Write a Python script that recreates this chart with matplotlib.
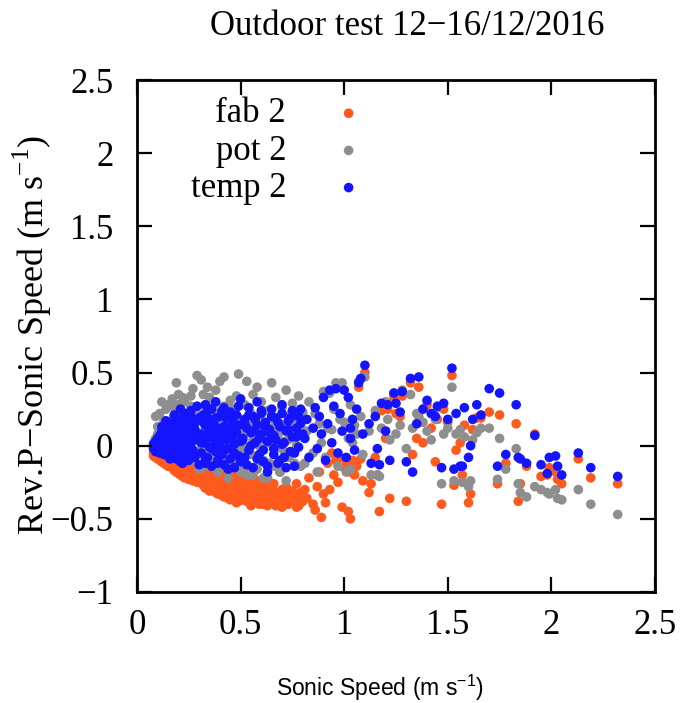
import matplotlib
matplotlib.use('Agg')
import matplotlib.pyplot as plt

# sonic anemometer speed (m/s), shared by the three reversed-pitot probes
sonic_speed = [
    # low wind cluster
    0.08, 0.08, 0.09, 0.09, 0.09, 0.10, 0.10, 0.10, 0.11, 0.11,
    0.11, 0.12, 0.12, 0.12, 0.13, 0.13, 0.13, 0.14, 0.14, 0.14,
    0.15, 0.15, 0.15, 0.16, 0.16,
    0.17, 0.17, 0.17, 0.18, 0.18, 0.18, 0.19, 0.19, 0.19, 0.20,
    0.20, 0.20, 0.21, 0.21, 0.21, 0.22, 0.22, 0.22, 0.23, 0.23,
    0.23, 0.24, 0.24, 0.24, 0.25, 0.25, 0.25, 0.26, 0.26, 0.27,
    0.27, 0.28, 0.28, 0.29, 0.30,
    0.31, 0.31, 0.32, 0.32, 0.33, 0.33, 0.33, 0.34, 0.34, 0.35,
    0.35, 0.35, 0.36, 0.36, 0.37, 0.37, 0.38, 0.38, 0.38, 0.39,
    0.39, 0.40, 0.40, 0.41, 0.41, 0.42, 0.42, 0.42, 0.43, 0.43,
    0.44, 0.44, 0.45, 0.45, 0.46, 0.46, 0.47, 0.47, 0.48, 0.48,
    0.49, 0.49, 0.50, 0.50, 0.50,
    0.51, 0.52, 0.52, 0.53, 0.54, 0.54, 0.55, 0.56, 0.56, 0.57,
    0.58, 0.58, 0.59, 0.60, 0.60, 0.61, 0.62, 0.63, 0.63, 0.64,
    0.65, 0.66, 0.66, 0.67, 0.68, 0.69, 0.70, 0.70, 0.71, 0.72,
    0.73, 0.74, 0.75, 0.75, 0.76, 0.77, 0.78, 0.78, 0.79, 0.80,
    0.12, 0.14, 0.16, 0.18, 0.19, 0.21, 0.22, 0.24, 0.26, 0.27,
    0.28, 0.29, 0.30, 0.31, 0.32, 0.33, 0.34, 0.35, 0.36, 0.37,
    0.38, 0.39, 0.40, 0.41, 0.42, 0.43, 0.44, 0.45, 0.46, 0.47,
    0.48, 0.49, 0.50, 0.51, 0.52, 0.53, 0.54, 0.55, 0.56, 0.57,
    0.58, 0.59, 0.60, 0.61, 0.62, 0.63, 0.64, 0.65, 0.66, 0.67,
    0.68, 0.69, 0.70, 0.71, 0.72, 0.73, 0.74, 0.76, 0.77, 0.79,
    # higher winds
    0.81, 0.82, 0.83, 0.85, 0.86, 0.87, 0.88, 0.89, 0.90, 0.91,
    0.92, 0.93, 0.94, 0.95, 0.96, 0.97, 0.98, 0.99, 1.00, 1.01,
    1.02, 1.03, 1.03, 1.04, 1.05, 1.06, 1.07, 1.08, 1.09, 1.10,
    1.12, 1.13, 1.15, 1.16, 1.17, 1.18, 1.20, 1.21, 1.22, 1.24,
    1.25, 1.27, 1.28, 1.30, 1.32, 1.33, 1.35, 1.36, 1.38, 1.40,
    1.42, 1.44, 1.45, 1.47, 1.48, 1.50, 1.52, 1.53, 1.54, 1.56,
    1.57, 1.58, 1.60, 1.61, 1.62, 1.64, 1.66, 1.70, 1.74, 1.75,
    1.78, 1.83, 1.84, 1.85, 1.88, 1.92, 1.95, 1.98, 1.99, 2.02,
    2.03, 2.05, 2.13, 2.19, 2.32,
]

# rev.pitot minus sonic speed (m/s)
fab_2 = [
    -0.05, -0.07, -0.06, -0.08, -0.04, -0.07, -0.09, -0.06, -0.08, -0.10,
    -0.07, -0.09, -0.11, -0.08, -0.10, -0.12, -0.09, -0.11, -0.13, -0.08,
    -0.12, -0.10, -0.14, -0.11, -0.13,
    -0.12, -0.15, -0.10, -0.14, -0.17, -0.11, -0.13, -0.18, -0.15, -0.12,
    -0.16, -0.19, -0.14, -0.20, -0.17, -0.13, -0.18, -0.21, -0.15, -0.19,
    -0.22, -0.16, -0.20, -0.13, -0.23, -0.18, -0.15, -0.21, -0.17, -0.24,
    -0.19, -0.16, -0.22, -0.25, -0.20,
    -0.18, -0.24, -0.15, -0.27, -0.21, -0.17, -0.29, -0.23, -0.19, -0.26,
    -0.16, -0.31, -0.22, -0.28, -0.18, -0.25, -0.30, -0.20, -0.27, -0.23,
    -0.33, -0.19, -0.28, -0.24, -0.31, -0.21, -0.35, -0.26, -0.18, -0.30,
    -0.25, -0.33, -0.22, -0.37, -0.28, -0.20, -0.32, -0.26, -0.36, -0.23,
    -0.30, -0.38, -0.25, -0.33, -0.21,
    -0.27, -0.34, -0.22, -0.38, -0.30, -0.25, -0.41, -0.33, -0.28, -0.36,
    -0.24, -0.39, -0.31, -0.35, -0.27, -0.40, -0.32, -0.37, -0.23, -0.34,
    -0.29, -0.38, -0.26, -0.41, -0.33, -0.36, -0.30, -0.39, -0.35, -0.28,
    -0.40, -0.33, -0.37, -0.31, -0.39, -0.26, -0.36, -0.41, -0.32, -0.38,
    -0.07, -0.12, -0.09, -0.16, -0.12, -0.18, -0.15, -0.21, -0.14, -0.22,
    -0.18, -0.23, -0.15, -0.21, -0.26, -0.20, -0.27, -0.22, -0.30, -0.24,
    -0.32, -0.26, -0.22, -0.34, -0.29, -0.24, -0.36, -0.30, -0.34, -0.27,
    -0.39, -0.33, -0.29, -0.37, -0.31, -0.35, -0.28, -0.39, -0.32, -0.37,
    -0.30, -0.40, -0.33, -0.37, -0.29, -0.41, -0.35, -0.38, -0.31, -0.40,
    -0.36, -0.33, -0.42, -0.37, -0.34, -0.40, -0.38, -0.35, -0.42, -0.39,
    -0.30, -0.36, -0.22, -0.40, -0.44, -0.28, -0.18, -0.49, -0.33, -0.39,
    -0.12, -0.30, -0.05, -0.20, -0.10, -0.25, -0.08, -0.42, -0.15, -0.12,
    -0.45, -0.50, -0.18, -0.10, -0.20, -0.14, 0.40, -0.09, -0.24, 0.50,
    -0.32, -0.26, -0.08, -0.20, -0.45, 0.24, 0.05, 0.25, -0.36, 0.33,
    0.22, 0.20, 0.34, -0.38, 0.43, -0.06, 0.05, 0.40, 0.02, 0.28,
    0.12, -0.11, 0.18, -0.40, 0.25, 0.16, 0.48, -0.27, -0.03, 0.02,
    -0.20, 0.14, -0.39, -0.33, 0.11, 0.19, 0.19, 0.23, -0.26, 0.21,
    -0.12, 0.15, -0.38, -0.26, -0.14, 0.08, -0.21, -0.20, -0.15, -0.18,
    -0.23, -0.26, -0.09, -0.22, -0.26,
]

pot_2 = [
    0.02, -0.01, 0.05, 0.20, -0.03, 0.08, 0.01, 0.13, 0.04, -0.04,
    0.22, 0.06, 0.30, -0.02, 0.10, 0.03, 0.17, -0.05, 0.25, 0.07,
    0.12, 0.00, 0.28, 0.04, 0.15,
    0.10, 0.32, 0.02, 0.16, 0.12, 0.26, 0.43, -0.03, 0.18, 0.35,
    0.05, 0.28, 0.12, 0.14, 0.00, 0.33, 0.22, 0.08, 0.09, 0.16,
    0.30, -0.05, 0.22, 0.20, 0.11, 0.14, 0.04, 0.27, 0.34, 0.09,
    0.39, 0.15, 0.24, 0.48, 0.06,
    0.20, 0.45, 0.05, 0.35, 0.24, 0.12, -0.02, 0.40, 0.25, 0.08,
    0.33, -0.08, 0.17, 0.15, 0.28, 0.02, 0.38, 0.18, -0.12, 0.22,
    0.10, 0.44, 0.22, 0.00, 0.16, 0.06, 0.27, 0.47, -0.05, 0.16,
    0.21, 0.09, 0.31, 0.04, 0.25, -0.10, 0.13, 0.13, 0.34, 0.07,
    0.49, 0.19, -0.03, 0.29, 0.11,
    0.00, 0.28, -0.15, 0.44, 0.10, -0.05, 0.22, 0.35, -0.20, 0.06,
    0.16, 0.40, -0.10, 0.02, 0.30, -0.22, 0.12, 0.24, 0.05, -0.12,
    0.43, 0.18, -0.02, 0.33, 0.08, -0.18, 0.26, 0.14, 0.03, 0.38,
    -0.08, 0.21, 0.10, 0.29, -0.04, 0.17, 0.34, 0.07, -0.14, 0.23,
    0.05, 0.10, -0.06, 0.12, 0.02, 0.20, -0.08, 0.02, 0.10, -0.10,
    0.06, 0.18, -0.16, -0.02, 0.08, -0.14, 0.15, 0.00, -0.08, 0.06,
    0.12, -0.18, 0.00, 0.14, -0.10, 0.05, -0.22, 0.02, 0.10, -0.12,
    0.06, 0.18, -0.18, -0.02, 0.08, -0.20, 0.14, -0.06, 0.04, 0.10,
    -0.16, 0.00, 0.16, -0.10, 0.06, -0.22, 0.02, 0.12, -0.14, -0.02,
    0.08, -0.18, 0.14, -0.04, -0.24, 0.04, 0.12, -0.12, 0.00, 0.18,
    -0.12, 0.10, 0.30, -0.05, 0.22, -0.18, 0.15, 0.02, 0.37, -0.08,
    0.12, 0.36, 0.11, 0.25, 0.43, -0.14, 0.18, 0.43, 0.16, -0.18,
    0.05, -0.16, 0.28, 0.02, 0.14, 0.08, 0.44, 0.20, -0.06, 0.47,
    0.10, -0.20, 0.24, -0.20, -0.21, 0.12, 0.30, 0.18, 0.04, 0.36,
    0.08, 0.14, 0.38, -0.02, 0.35, 0.12, 0.22, 0.20, 0.16, 0.10,
    0.04, 0.18, 0.26, -0.26, 0.08, 0.12, 0.40, -0.24, 0.08, 0.11,
    -0.25, 0.06, -0.28, -0.24, 0.04, 0.09, 0.12, 0.12, -0.23, 0.05,
    -0.16, -0.02, -0.26, -0.32, -0.35, -0.28, -0.30, -0.32, -0.33, -0.30,
    -0.36, -0.37, -0.30, -0.40, -0.47,
]

temp_2 = [
    0.01, -0.02, 0.03, 0.00, -0.04, 0.05, -0.01, 0.02, 0.07, -0.05,
    0.04, 0.10, -0.03, 0.06, 0.01, 0.12, -0.06, 0.08, 0.03, -0.02,
    0.14, 0.05, -0.07, 0.09, 0.00,
    0.04, -0.06, 0.15, 0.09, -0.02, 0.20, 0.02, -0.09, 0.12, 0.06,
    -0.04, 0.18, 0.00, 0.10, -0.11, 0.14, 0.03, -0.07, 0.22, 0.08,
    -0.01, 0.11, -0.05, 0.17, 0.05, -0.10, 0.13, 0.01, 0.24, 0.07,
    -0.03, 0.16, -0.08, 0.04, 0.19,
    0.08, -0.05, 0.21, 0.02, -0.12, 0.14, 0.28, 0.05, -0.08, 0.18,
    -0.01, 0.10, 0.25, -0.14, 0.07, 0.15, -0.04, 0.30, 0.03, 0.12,
    -0.10, 0.20, 0.00, 0.09, -0.06, 0.26, 0.13, -0.13, 0.04, 0.19,
    -0.02, 0.11, 0.23, -0.09, 0.06, 0.16, -0.15, 0.01, 0.21, 0.09,
    -0.07, 0.14, 0.32, 0.03, -0.11,
    0.05, 0.18, -0.08, 0.12, 0.26, -0.03, 0.09, 0.20, -0.15, 0.02,
    0.14, 0.30, -0.06, 0.08, 0.22, -0.11, 0.16, 0.03, -0.18, 0.11,
    0.25, -0.02, 0.07, 0.19, -0.12, 0.13, 0.01, 0.28, -0.08, 0.10,
    0.17, -0.04, 0.06, 0.24, -0.14, 0.12, 0.20, -0.01, 0.15, 0.08,
    0.13, 0.17, -0.09, 0.21, 0.10, 0.25, -0.12, 0.07, 0.20, -0.06,
    0.11, 0.27, -0.13, 0.02, 0.16, -0.09, 0.23, 0.06, -0.02, 0.13,
    0.19, -0.12, 0.05, 0.24, -0.03, 0.12, -0.16, 0.08, 0.18, -0.05,
    0.13, 0.27, -0.10, 0.04, 0.15, -0.13, 0.21, 0.00, 0.10, 0.18,
    -0.09, 0.05, 0.24, -0.03, 0.13, -0.14, 0.09, 0.20, -0.06, 0.04,
    0.16, -0.10, 0.22, 0.02, -0.15, 0.11, 0.19, -0.05, 0.06, 0.25,
    0.05, 0.18, -0.08, 0.12, 0.26, -0.02, 0.20, 0.08, 0.33, -0.10,
    0.15, 0.38, 0.02, 0.27, 0.39, -0.05, 0.22, 0.10, 0.38, -0.08,
    0.33, 0.12, 0.05, 0.18, -0.03, 0.25, 0.43, 0.46, 0.08, 0.55,
    0.15, -0.12, 0.20, -0.02, -0.13, 0.29, 0.10, 0.28, -0.10, 0.36,
    0.29, 0.23, 0.37, -0.11, 0.46, -0.18, 0.15, 0.47, 0.25, 0.31,
    0.22, 0.20, 0.27, -0.15, 0.29, 0.18, 0.53, -0.16, 0.22, -0.14,
    -0.14, 0.26, -0.08, 0.00, 0.18, 0.28, 0.21, 0.39, -0.14, 0.36,
    -0.06, 0.28, -0.08, -0.09, -0.12, 0.07, -0.13, -0.19, -0.08, -0.07,
    -0.14, -0.20, -0.05, -0.15, -0.21,
]

series = [('fab 2', fab_2, '#ff5a1e'),
          ('pot 2', pot_2, '#8e8e8e'),
          ('temp 2', temp_2, '#1414ff')]

plt.rcParams['font.family'] = ['Liberation Serif', 'DejaVu Serif']
plt.rcParams['mathtext.fontset'] = 'custom'
plt.rcParams['mathtext.rm'] = 'Liberation Serif'
plt.rcParams['mathtext.sf'] = 'Liberation Sans'

fig = plt.figure(figsize=(6.86, 7.03), dpi=100)
ax = fig.add_axes([0.1997, 0.1579, 0.7551, 0.7283])

for name, vals, col in series:
    ax.scatter(sonic_speed, vals, s=48, c=col, edgecolors='none', label=name)

ax.set_xlim(0, 2.5)
ax.set_ylim(-1, 2.5)
ax.set_xticks([0, 0.5, 1, 1.5, 2, 2.5])
ax.set_yticks([-1, -0.5, 0, 0.5, 1, 1.5, 2, 2.5])
ax.set_xticklabels(['0', '0.5', '1', '1.5', '2', '2.5'])
ax.set_yticklabels(['\u22121', '\u22120.5', '0', '0.5', '1', '1.5', '2', '2.5'])
ax.tick_params(direction='in', length=11, width=1.6, top=True, right=True,
               labelsize=25)
ax.tick_params(axis='x', pad=12)
ax.tick_params(axis='y', pad=17)
for sp in ax.spines.values():
    sp.set_linewidth(2.0)

leg = ax.legend(loc='upper left', bbox_to_anchor=(0.07, 1.0), frameon=False,
                markerfirst=False, scatterpoints=1, fontsize=25,
                handletextpad=1.3, labelspacing=0.12, handlelength=1.0,
                borderaxespad=0.1)

fig.text(0.593, 0.962, 'Outdoor test 12\u221216/12/2016', ha='center',
         va='center', fontsize=25)
fig.text(0.554, 0.021, r'Sonic Speed (m s$^{\mathsf{-1}}$)', ha='center',
         va='center', fontsize=16.5, family='Liberation Sans')
fig.text(0.047, 0.523, r'Rev.P$-$Sonic Speed (m s$^{-1}$)', ha='center',
         va='center', rotation=90, fontsize=26)

fig.savefig('out.png', dpi=100)
